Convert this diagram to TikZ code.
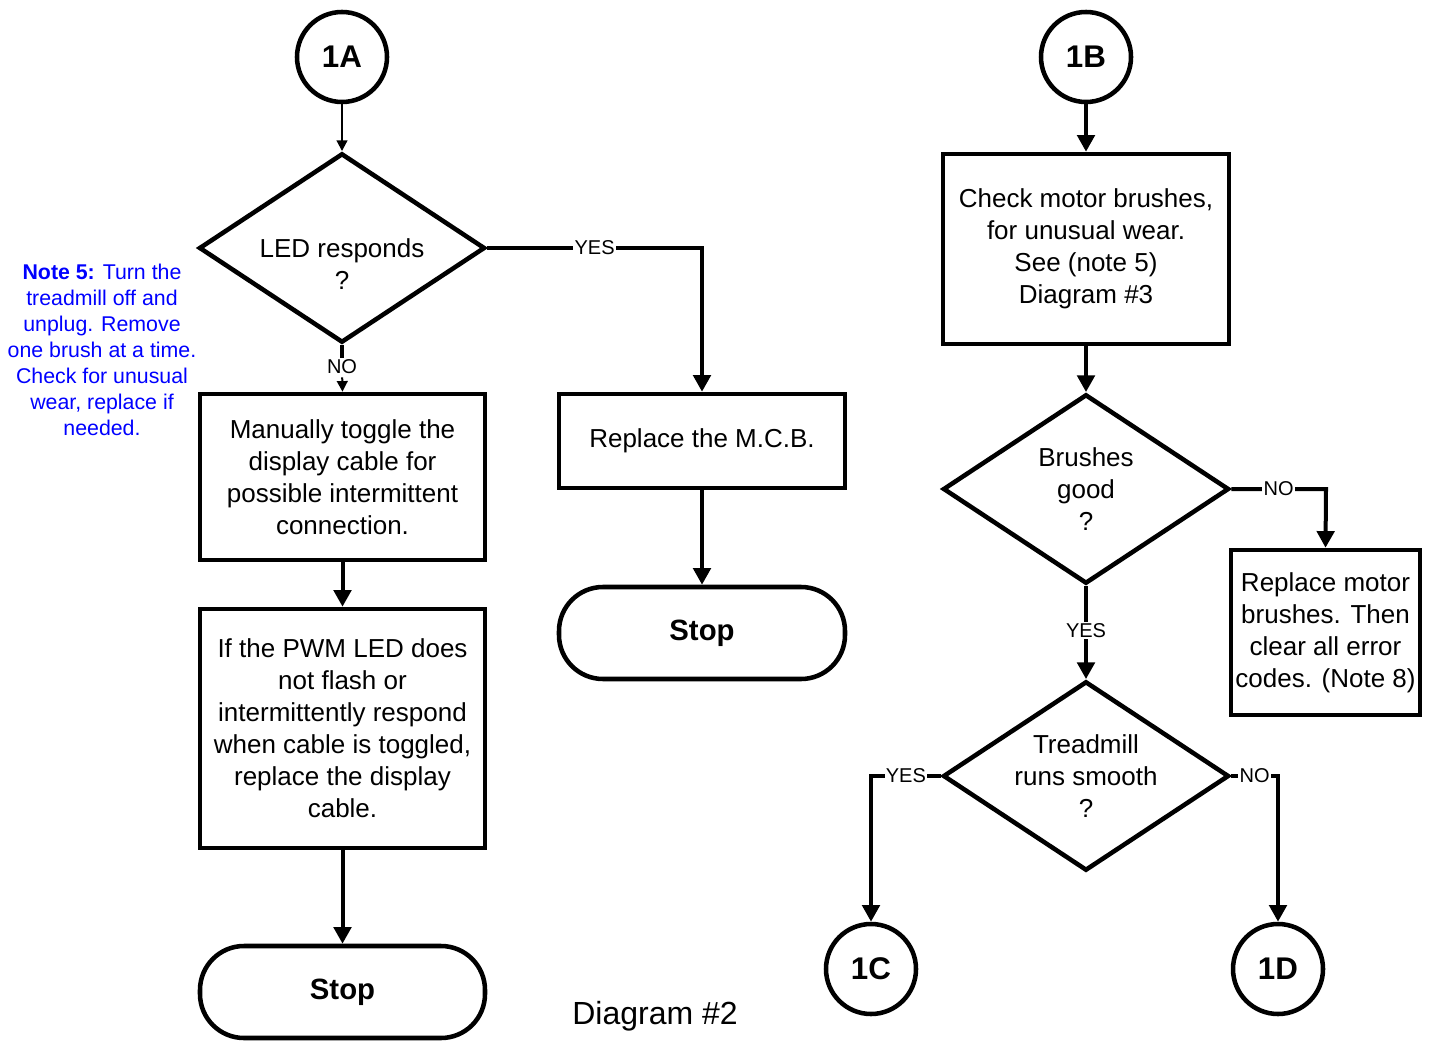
\documentclass[tikz,border=0pt]{standalone}
\usepackage{fontspec}
\setmainfont{Liberation Sans}
\usetikzlibrary{shapes.geometric,arrows.meta,positioning}
\definecolor{notecolor}{RGB}{0,0,255}

\begin{document}
\begin{tikzpicture}[
    x=0.75pt, y=-0.75pt,
    line width=3pt,
    txt/.style={font=\fontsize{19.5}{24}\selectfont},
    box/.style={rectangle, draw, line width=3.4pt, align=center, txt, inner sep=0pt, minimum width=213.75pt},
    decision/.style={diamond, draw, line width=3.4pt, inner sep=0pt, minimum width=214.5pt, minimum height=142pt, aspect=1.5},
    connector/.style={circle, draw, line width=3.4pt, minimum size=67.5pt, inner sep=0pt, font=\fontsize{23.5}{28}\selectfont\bfseries},
    stopbox/.style={rectangle, draw, line width=3.4pt, rounded corners=33pt, minimum width=213.75pt, minimum height=69pt, font=\fontsize{22}{26}\selectfont\bfseries},
    answer/.style={fill=white, inner sep=1pt, font=\fontsize{15}{18}\selectfont},
    arrow/.style={-{Triangle[length=12.5pt, width=13pt]}},
    thinarrow/.style={-{Triangle[length=8pt, width=8pt]}, line width=1.5pt}
]
\useasboundingbox (0,0) rectangle (1433,1044);

% Left branch
\node[connector] (c1a) at (342,57) {1A};
\node[decision] (led) at (342,248) {};
\node[txt, align=center] (ledtext) at (342,264) {LED responds\\?};
\node[box, minimum height=124.5pt] (toggle) at (342.5,477) {Manually toggle the\\display cable for\\possible intermittent\\connection.};
\node[box, minimum height=179.25pt] (pwm) at (342.5,728.5) {If the PWM LED does\\not flash or\\intermittently respond\\when cable is toggled,\\replace the display\\cable.};
\node[stopbox] (stopa) at (342.5,992) {Stop};

\node[box, minimum width=214.5pt, minimum height=70.5pt] (mcb) at (702,441) {Replace the M.C.B.};
\node[stopbox, minimum width=214.5pt] (stopb) at (702,633) {Stop};

% Note
\node[align=center, text=notecolor, font=\fontsize{16}{19.5}\selectfont] (note) at (102,350) {\textbf{Note 5:} Turn the\\treadmill off and\\unplug. Remove\\one brush at a time.\\Check for unusual\\wear, replace if\\needed.};

% Right branch
\node[connector] (c1b) at (1086,57) {1B};
\node[box, minimum width=214.5pt, minimum height=142.5pt] (check) at (1086,249) {Check motor brushes,\\for unusual wear.\\See (note 5)\\Diagram \#3};
\node[decision, txt, align=center] (brushes) at (1086,489) {Brushes\\good\\?};
\node[box, minimum width=141.75pt, minimum height=123.75pt] (motor) at (1325.5,632.5) {Replace motor\\brushes. Then\\clear all error\\codes. (Note 8)};
\node[decision, txt, align=center] (smooth) at (1086,776) {Treadmill\\runs smooth\\?};
\node[connector] (c1c) at (871,969) {1C};
\node[connector] (c1d) at (1278,969) {1D};

% Caption
\node[font=\fontsize{24}{28}\selectfont] (caption) at (655,1016) {Diagram \#2};

% Arrows
\draw[thinarrow] (c1a) -- (led);
\draw[arrow] (led.east) -- node[answer] {YES} (702,248) -- (mcb.north);
\draw (led.south) -- (342,358);
\node[answer] (noa) at (342,367) {NO};
\draw[thinarrow] (noa) -- (toggle.north);
\draw[arrow] (toggle) -- (pwm);
\draw[arrow] (pwm) -- (stopa);
\draw[arrow] (mcb) -- (stopb);

\draw[arrow] (c1b) -- (check);
\draw[arrow] (check) -- (brushes);
\draw[arrow] (brushes.east) -- node[answer] {NO} (1326,489) -- (motor.north);
\draw[arrow] (brushes.south) -- node[answer, pos=0.48] {YES} (smooth.north);
\draw[arrow] (smooth.west) -- node[answer] {YES} (871,776) -- (c1c.north);
\draw[arrow] (smooth.east) -- node[answer] {NO} (1278,776) -- (c1d.north);

\end{tikzpicture}
\end{document}
